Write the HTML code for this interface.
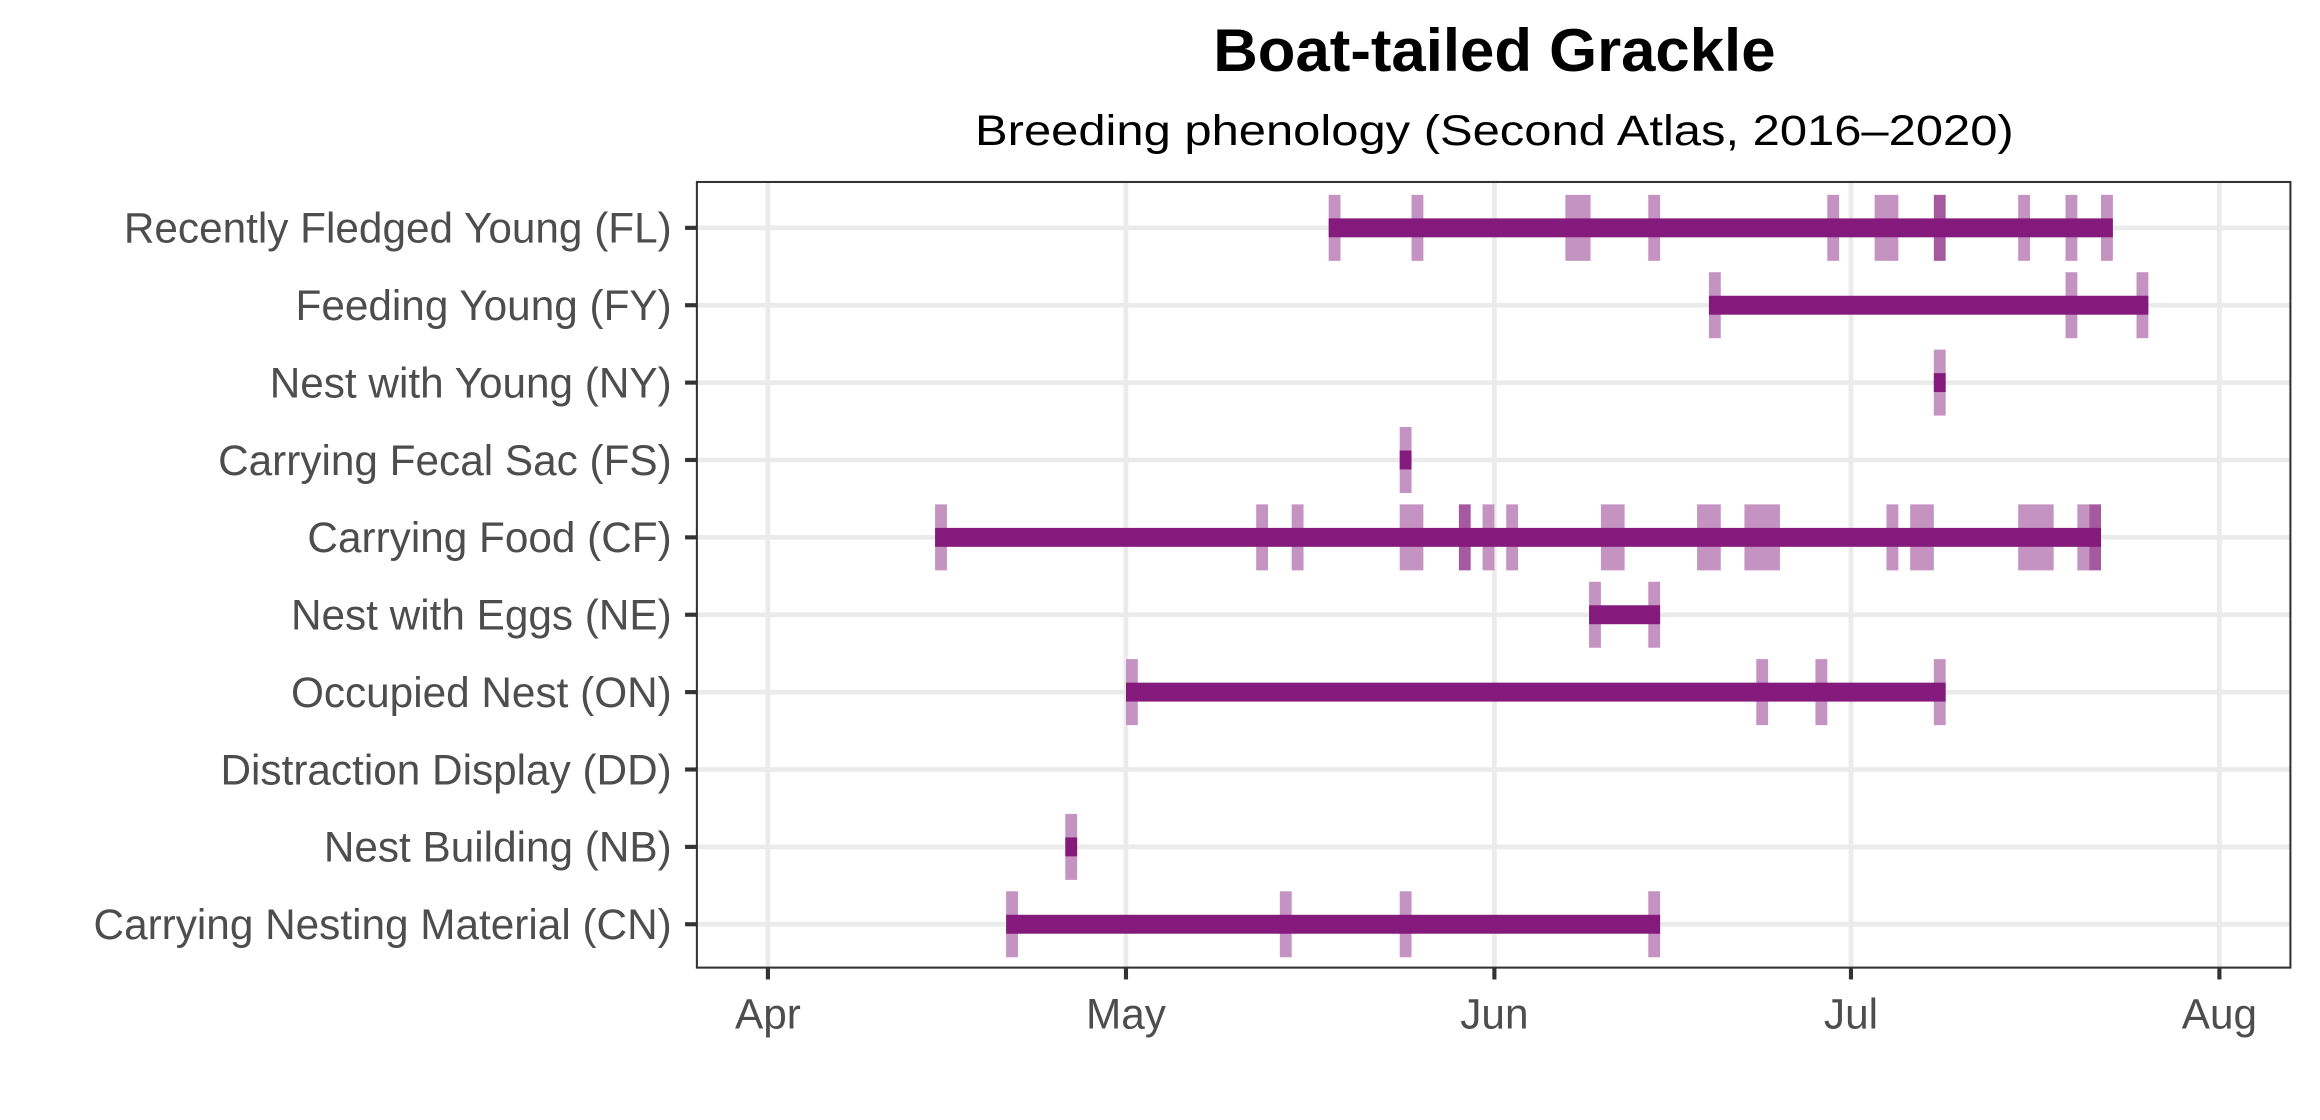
<!DOCTYPE html>
<html><head><meta charset="utf-8"><style>
html,body{margin:0;padding:0;background:#fff;}
svg{display:block;}
text{font-family:"Liberation Sans",Arial,sans-serif;}
</style></head><body>
<svg width="2320" height="1120" viewBox="0 0 1568 757" preserveAspectRatio="none" xmlns="http://www.w3.org/2000/svg">
<rect width="1568" height="757" fill="#fff"/>
<text x="1010" y="48" text-anchor="middle" font-weight="bold" font-size="41" fill="#000" textLength="380" lengthAdjust="spacingAndGlyphs">Boat-tailed Grackle</text>
<text x="1010" y="98" text-anchor="middle" font-size="28.5" fill="#000" textLength="702" lengthAdjust="spacingAndGlyphs">Breeding phenology (Second Atlas, 2016–2020)</text>
<g stroke="#ebebeb" stroke-width="3.2">
<line x1="519" y1="123" x2="519" y2="654"/><line x1="761" y1="123" x2="761" y2="654"/><line x1="1010" y1="123" x2="1010" y2="654"/><line x1="1251" y1="123" x2="1251" y2="654"/><line x1="1500" y1="123" x2="1500" y2="654"/>
<line x1="471" y1="154" x2="1548" y2="154"/><line x1="471" y1="206.3" x2="1548" y2="206.3"/><line x1="471" y1="258.6" x2="1548" y2="258.6"/><line x1="471" y1="310.9" x2="1548" y2="310.9"/><line x1="471" y1="363.2" x2="1548" y2="363.2"/><line x1="471" y1="415.5" x2="1548" y2="415.5"/><line x1="471" y1="467.8" x2="1548" y2="467.8"/><line x1="471" y1="520.1" x2="1548" y2="520.1"/><line x1="471" y1="572.4" x2="1548" y2="572.4"/><line x1="471" y1="624.7" x2="1548" y2="624.7"/>
</g>
<g fill="#c493c1">
<g transform="translate(0,154)"><rect x="898" y="-22.3" width="8" height="44.6"/><rect x="954" y="-22.3" width="8" height="44.6"/><rect x="1058" y="-22.3" width="17" height="44.6"/><rect x="1114" y="-22.3" width="8" height="44.6"/><rect x="1235" y="-22.3" width="8" height="44.6"/><rect x="1267" y="-22.3" width="16" height="44.6"/><rect x="1307" y="-22.3" width="8" height="44.6" fill="#a55a9f"/><rect x="1364" y="-22.3" width="8" height="44.6"/><rect x="1396" y="-22.3" width="8" height="44.6"/><rect x="1420" y="-22.3" width="8" height="44.6"/></g>
<g transform="translate(0,206.3)"><rect x="1155" y="-22.3" width="8" height="44.6"/><rect x="1396" y="-22.3" width="8" height="44.6"/><rect x="1444" y="-22.3" width="8" height="44.6"/></g>
<g transform="translate(0,258.6)"><rect x="1307" y="-22.3" width="8" height="44.6"/></g>
<g transform="translate(0,310.9)"><rect x="946" y="-22.3" width="8" height="44.6"/></g>
<g transform="translate(0,363.2)"><rect x="632" y="-22.3" width="8" height="44.6"/><rect x="849" y="-22.3" width="8" height="44.6"/><rect x="873" y="-22.3" width="8" height="44.6"/><rect x="946" y="-22.3" width="16" height="44.6"/><rect x="986" y="-22.3" width="8" height="44.6" fill="#a55a9f"/><rect x="1002" y="-22.3" width="8" height="44.6"/><rect x="1018" y="-22.3" width="8" height="44.6"/><rect x="1082" y="-22.3" width="16" height="44.6"/><rect x="1147" y="-22.3" width="16" height="44.6"/><rect x="1179" y="-22.3" width="24" height="44.6"/><rect x="1275" y="-22.3" width="8" height="44.6"/><rect x="1291" y="-22.3" width="16" height="44.6"/><rect x="1364" y="-22.3" width="24" height="44.6"/><rect x="1404" y="-22.3" width="8" height="44.6"/><rect x="1412" y="-22.3" width="8" height="44.6" fill="#a55a9f"/></g>
<g transform="translate(0,415.5)"><rect x="1074" y="-22.3" width="8" height="44.6"/><rect x="1114" y="-22.3" width="8" height="44.6"/></g>
<g transform="translate(0,467.8)"><rect x="761" y="-22.3" width="8" height="44.6"/><rect x="1187" y="-22.3" width="8" height="44.6"/><rect x="1227" y="-22.3" width="8" height="44.6"/><rect x="1307" y="-22.3" width="8" height="44.6"/></g>
<g transform="translate(0,572.4)"><rect x="720" y="-22.3" width="8" height="44.6"/></g>
<g transform="translate(0,624.7)"><rect x="680" y="-22.3" width="8" height="44.6"/><rect x="865" y="-22.3" width="8" height="44.6"/><rect x="946" y="-22.3" width="8" height="44.6"/><rect x="1114" y="-22.3" width="8" height="44.6"/></g>
</g>
<g fill="#841a7c">
<rect x="898" y="147.6" width="530" height="12.8"/>
<rect x="1155" y="199.9" width="297" height="12.8"/>
<rect x="1307" y="252.2" width="8" height="12.8"/>
<rect x="946" y="304.5" width="8" height="12.8"/>
<rect x="632" y="356.8" width="788" height="12.8"/>
<rect x="1074" y="409.1" width="48" height="12.8"/>
<rect x="761" y="461.4" width="554" height="12.8"/>
<rect x="720" y="566" width="8" height="12.8"/>
<rect x="680" y="618.3" width="442" height="12.8"/>
</g>
<rect x="471" y="123" width="1077" height="531" fill="none" stroke="#333" stroke-width="1.4"/>
<g stroke="#333" stroke-width="2.8">
<line x1="463" y1="154" x2="471" y2="154"/><line x1="463" y1="206.3" x2="471" y2="206.3"/><line x1="463" y1="258.6" x2="471" y2="258.6"/><line x1="463" y1="310.9" x2="471" y2="310.9"/><line x1="463" y1="363.2" x2="471" y2="363.2"/><line x1="463" y1="415.5" x2="471" y2="415.5"/><line x1="463" y1="467.8" x2="471" y2="467.8"/><line x1="463" y1="520.1" x2="471" y2="520.1"/><line x1="463" y1="572.4" x2="471" y2="572.4"/><line x1="463" y1="624.7" x2="471" y2="624.7"/>
<line x1="519" y1="654" x2="519" y2="662"/><line x1="761" y1="654" x2="761" y2="662"/><line x1="1010" y1="654" x2="1010" y2="662"/><line x1="1251" y1="654" x2="1251" y2="662"/><line x1="1500" y1="654" x2="1500" y2="662"/>
</g>
<g fill="#4d4d4d" font-size="28.6" text-anchor="end">
<text x="454" y="164">Recently Fledged Young (FL)</text>
<text x="454" y="216.3">Feeding Young (FY)</text>
<text x="454" y="268.6">Nest with Young (NY)</text>
<text x="454" y="320.9">Carrying Fecal Sac (FS)</text>
<text x="454" y="373.2">Carrying Food (CF)</text>
<text x="454" y="425.5">Nest with Eggs (NE)</text>
<text x="454" y="477.8">Occupied Nest (ON)</text>
<text x="454" y="530.1">Distraction Display (DD)</text>
<text x="454" y="582.4">Nest Building (NB)</text>
<text x="454" y="634.7">Carrying Nesting Material (CN)</text>
</g>
<g fill="#4d4d4d" font-size="28.6" text-anchor="middle">
<text x="519" y="695">Apr</text><text x="761" y="695">May</text><text x="1010" y="695">Jun</text><text x="1251" y="695">Jul</text><text x="1500" y="695">Aug</text>
</g>
</svg>
</body></html>
